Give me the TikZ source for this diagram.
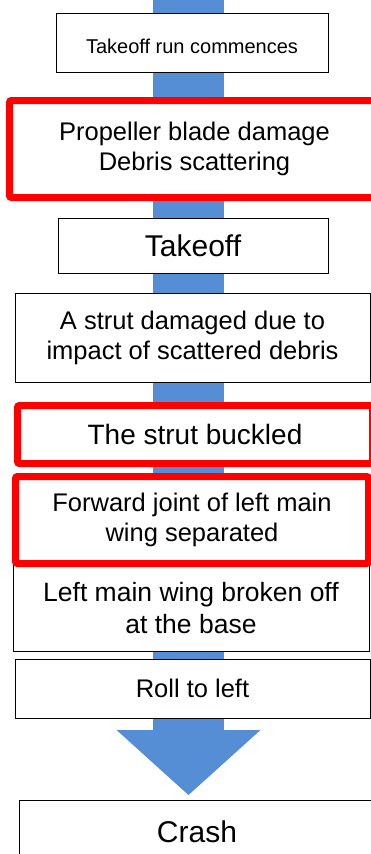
\documentclass[tikz,border=0pt]{standalone}
\usepackage{fontspec}
\setmainfont{Liberation Sans}
\usetikzlibrary{arrows.meta}
\definecolor{flowblue}{RGB}{85,142,213}
\definecolor{alertred}{RGB}{255,0,0}
\tikzset{
  stage/.style={draw=black,line width=1pt,fill=white,align=center,inner sep=0pt,font=\fontsize{25.5}{30}\selectfont},
  alert/.style={stage,draw=alertred,line width=7pt,rounded corners=2pt},
  flow/.style={line width=71pt,flowblue,-{Triangle[length=65pt,width=144pt,line width=0pt]}}
}
\begin{document}
\begin{tikzpicture}[x=1pt,y=-1pt]
\useasboundingbox (0,0) rectangle (371,854);
\coordinate (flowtop) at (188.5,-5);
\coordinate (flowtip) at (188.5,795);
\draw[flow] (flowtop)--(flowtip);
\node[stage,font=\fontsize{20}{24}\selectfont,text height=22pt,minimum width=272pt,minimum height=59pt] (run) at (192,42.5) {Takeoff run commences};
\node[alert,minimum width=370pt,minimum height=97pt] (prop) at (194.5,149) {Propeller blade damage\\Debris scattering};
\node[stage,font=\fontsize{30}{34}\selectfont,minimum width=270pt,minimum height=55pt] (takeoff) at (193,245.5) {Takeoff};
\node[stage,minimum width=355pt,minimum height=89pt] (strut) at (192.5,337.5) {A strut damaged due to\\impact of scattered debris};
\node[alert,font=\fontsize{28}{32}\selectfont,minimum width=355pt,minimum height=58pt] (buckle) at (195,434.5) {The strut buckled};
\node[stage,font=\fontsize{26.5}{32}\selectfont,minimum width=356pt,minimum height=86pt] (wing) at (191,608) {Left main wing broken off\\at the base};
\node[alert,minimum width=353pt,minimum height=87pt] (joint) at (192,520) {Forward joint of left main\\wing separated};
\node[stage,minimum width=355pt,minimum height=59pt] (roll) at (192.5,688.5) {Roll to left};
\node[stage,font=\fontsize{30}{34}\selectfont,minimum width=356pt,minimum height=64pt] (crash) at (197,832) {Crash};
\end{tikzpicture}
\end{document}
